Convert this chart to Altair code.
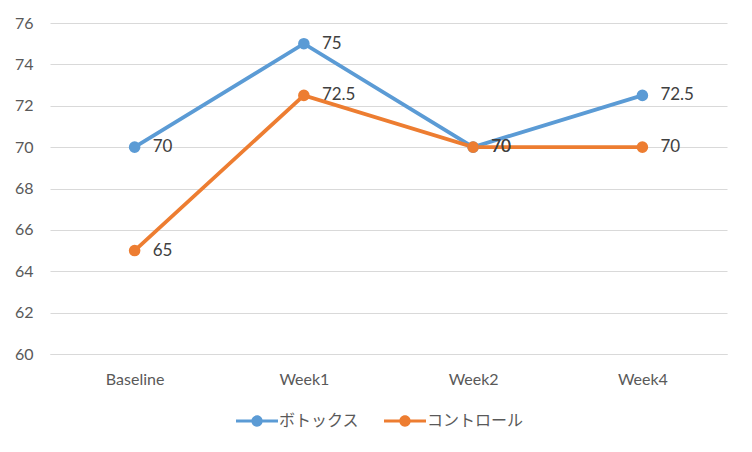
import altair as alt
import pandas as pd

categories = ["Baseline", "Week1", "Week2", "Week4"]
series_names = ["ボトックス", "コントロール"]
botox = [70, 75, 70, 72.5]
control = [65, 72.5, 70, 70]
colors = ["#5B9BD5", "#ED7D31"]
y_ticks = [60, 62, 64, 66, 68, 70, 72, 74, 76]

rows = []
for i, c in enumerate(categories):
    rows.append({"cat": c, "series": series_names[0], "value": botox[i], "order": 0})
for i, c in enumerate(categories):
    rows.append({"cat": c, "series": series_names[1], "value": control[i], "order": 1})
df = pd.DataFrame(rows)

FONT = "Lato, Noto Sans CJK JP, sans-serif"

legend_symbol = (
    "M-1,-0.075 H-0.2 V0.075 H-1 Z "
    "M0.2,-0.075 H1 V0.075 H0.2 Z "
    "M0.27,0 A0.27,0.27 0 1,1 -0.27,0 A0.27,0.27 0 1,1 0.27,0 Z"
)

x_enc = alt.X("cat:N", sort=categories, title=None,
              axis=alt.Axis(labelAngle=0, ticks=False, domainColor="#D9D9D9",
                            labelPadding=17, labelFontSize=16, labelColor="#595959",
                            labelFont=FONT, grid=False))
y_enc = alt.Y("value:Q", title=None,
              scale=alt.Scale(domain=[60, 76], nice=False),
              axis=alt.Axis(values=y_ticks, ticks=False, domain=False, grid=True,
                            gridColor="#D9D9D9", labelPadding=17, labelFontSize=16,
                            labelColor="#595959", labelFont=FONT))
color_enc = alt.Color("series:N", sort=series_names,
                      scale=alt.Scale(domain=series_names, range=colors),
                      legend=alt.Legend(title=None, orient="none", direction="horizontal",
                                        legendX=186, legendY=377,
                                        symbolType=legend_symbol, symbolSize=1764,
                                        symbolStrokeWidth=0, symbolOpacity=1,
                                        labelFontSize=16, labelColor="#595959",
                                        labelFont=FONT, labelOffset=1,
                                        columnPadding=24))

base = alt.Chart(df).encode(x=x_enc, y=y_enc,
                            color=color_enc,
                            order=alt.Order("order:Q"))

lines = base.mark_line(strokeWidth=3.8)
points = base.mark_point(filled=True, size=135, opacity=1)
labels = base.mark_text(align="left", baseline="middle", dx=18, fontSize=17,
                        font=FONT, color="#404040").encode(
    text=alt.Text("value:Q"), color=alt.value("#404040"))

chart = alt.layer(lines, points, labels).properties(
    width=677, height=331,
    autosize=alt.AutoSizeParams(type="none"),
    padding={"left": 42, "top": 15, "right": 17, "bottom": 90},
).configure(background="white").configure_view(stroke=None)

chart.save("out.html", embed_options={"renderer": "svg", "actions": False})
